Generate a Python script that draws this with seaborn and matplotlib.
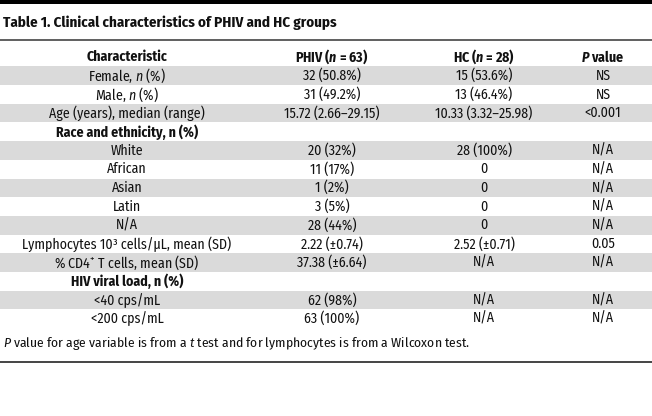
import numpy as np
import pandas as pd
import matplotlib
matplotlib.use("Agg")
import matplotlib.pyplot as plt
from matplotlib.colors import ListedColormap
import seaborn as sns

# === table content ===
title = "Table 1. Clinical characteristics of PHIV and HC groups"
headers = ["Characteristic", r"PHIV ($\mathbfit{n}$ = 63)", r"HC ($\mathbfit{n}$ = 28)", r"$\mathbfit{P}$ value"]

characteristic = [
    "Female, $n$ (%)",
    "Male, $n$ (%)",
    "Age (years), median (range)",
    "Race and ethnicity, n (%)",
    "White",
    "African",
    "Asian",
    "Latin",
    "N/A",
    "Lymphocytes 10³ cells/µL, mean (SD)",
    "% CD4$^{+}$ T cells, mean (SD)",
    "HIV viral load, n (%)",
    "<40 cps/mL",
    "<200 cps/mL",
]
phiv = ["32 (50.8%)", "31 (49.2%)", "15.72 (2.66–29.15)", "", "20 (32%)", "11 (17%)",
        "1 (2%)", "3 (5%)", "28 (44%)", "2.22 (±0.74)", "37.38 (±6.64)", "", "62 (98%)", "63 (100%)"]
hc = ["15 (53.6%)", "13 (46.4%)", "10.33 (3.32–25.98)", "", "28 (100%)", "0",
      "0", "0", "0", "2.52 (±0.71)", "N/A", "", "N/A", "N/A"]
pvalue = ["NS", "NS", "<0.001", "", "N/A", "N/A", "N/A", "N/A", "N/A", "0.05", "N/A", "", "N/A", "N/A"]
section_rows = ["Race and ethnicity, n (%)", "HIV viral load, n (%)"]

footnote = "$P$ value for age variable is from a $t$ test and for lymphocytes is from a Wilcoxon test."

df = pd.DataFrame({"Characteristic": characteristic, "PHIV": phiv, "HC": hc, "P": pvalue})

# === style ===
sns.set_theme(style="white")
FONT = "Fira Sans Condensed"
plt.rcParams["font.family"] = [FONT, "DejaVu Sans"]
plt.rcParams["mathtext.fontset"] = "custom"
plt.rcParams["mathtext.rm"] = FONT
plt.rcParams["mathtext.it"] = FONT + ":italic"
plt.rcParams["mathtext.bf"] = FONT + ":bold"
plt.rcParams["mathtext.bfit"] = FONT + ":bold:italic"

W, H = 652, 416
fig = plt.figure(figsize=(W / 100, H / 100), dpi=100)

# background axes in pixel units for rules, title and note
bg = fig.add_axes([0, 0, 1, 1])
bg.set_xlim(0, W)
bg.set_ylim(H, 0)
bg.axis("off")
bg.axhspan(0, 3.8, color="black", lw=0)
bg.axhline(40, color="#444444", lw=1.2)
bg.axhline(362, color="#444444", lw=1.4)
bg.text(3, 23, title, fontsize=10.8, fontweight="bold", va="center", ha="left", color="#111111")
bg.text(3, 343, footnote, fontsize=9.8, va="center", ha="left", color="#111111")

# body: striped rows as a one-column heatmap
row_h = 18.7
top = 57 - row_h / 2
n_rows = len(df) + 1
bottom = top + row_h * n_rows
ax = fig.add_axes([0, 1 - bottom / H, 1, (bottom - top) / H])
stripes = np.array([[0]] + [[1 - i % 2] for i in range(len(df))])
sns.heatmap(stripes, ax=ax, cmap=ListedColormap(["white", "#dadada"]), cbar=False,
            xticklabels=False, yticklabels=False, linewidths=0, vmin=0, vmax=1)
ax.axis("off")

col_x = [127 / W, 332 / W, 484 / W, 603 / W]
fs = 10
for j, h in enumerate(headers):
    ax.text(col_x[j], 0.5, h, fontsize=fs, fontweight="bold", ha="center", va="center", color="#111111")

for i, row in df.iterrows():
    y = i + 1.5
    bold = row["Characteristic"] in section_rows
    for j, key in enumerate(["Characteristic", "PHIV", "HC", "P"]):
        ax.text(col_x[j], y, row[key], fontsize=fs, fontweight="bold" if bold else "normal",
                ha="center", va="center", color="#111111")

fig.savefig("out.png", dpi=100)
